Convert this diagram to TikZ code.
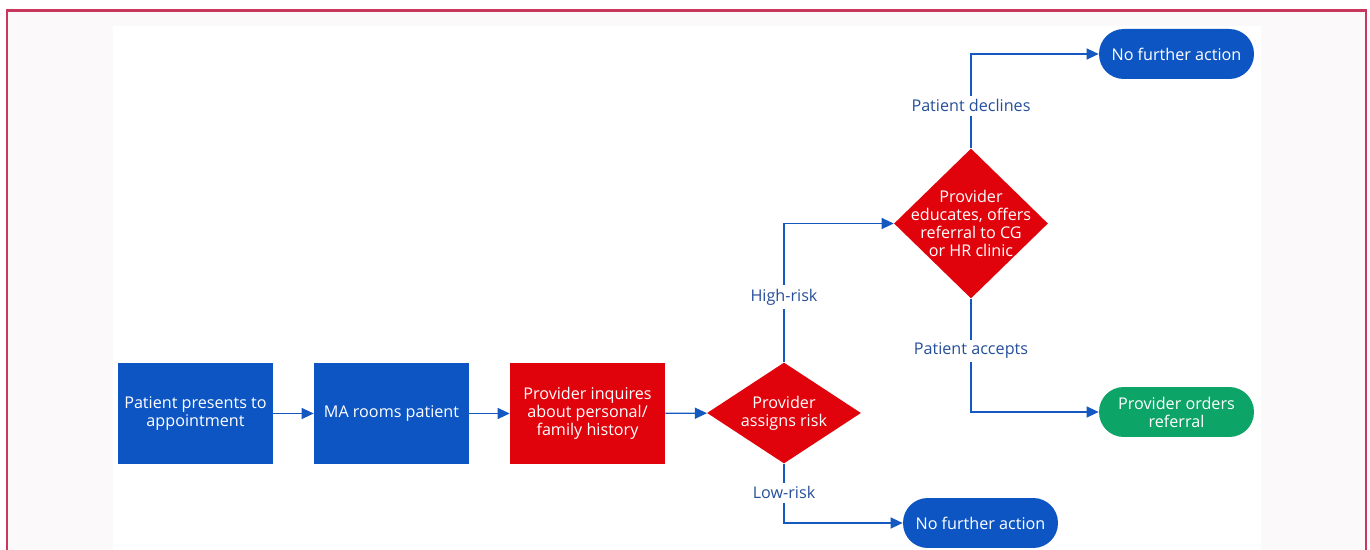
\documentclass[tikz,border=0pt]{standalone}
\usepackage{fontspec}
\setmainfont{Open Sans}
\usetikzlibrary{shapes.geometric,arrows.meta}

\definecolor{stepblue}{HTML}{0D55C3}
\definecolor{stepred}{HTML}{E1030C}
\definecolor{stepgreen}{HTML}{0CA467}
\definecolor{flowblue}{HTML}{1558C0}
\definecolor{labelblue}{HTML}{264F9A}
\definecolor{framered}{HTML}{C9375F}
\definecolor{pagebg}{HTML}{FCF9FA}

\tikzset{
  stepbox/.style={rectangle, minimum width=3.1cm, minimum height=2.02cm,
    inner sep=0pt, align=center, text=white, font=\fontsize{9.2}{10.3}\selectfont},
  decision/.style={diamond, inner sep=-6pt, align=center, text=white,
    font=\fontsize{9.2}{10.3}\selectfont, fill=stepred},
  terminal/.style={rectangle, rounded corners=0.495cm, minimum width=3.1cm,
    minimum height=1cm, inner sep=0pt, align=center, text=white,
    font=\fontsize{9.2}{10.3}\selectfont},
  flow/.style={draw=flowblue, line width=0.7pt, -{Triangle[length=0.24cm,width=0.22cm]}},
  edgelabel/.style={fill=white, text=labelblue, inner sep=2pt,
    font=\fontsize{9.2}{10.3}\selectfont}
}

\begin{document}
\begin{tikzpicture}[x=0.02cm, y=-0.02cm]
  \useasboundingbox (0, 0) rectangle (1370, 550);
  \fill[pagebg] (7, 10.5) rectangle (1366, 560);
  \fill[white] (113, 26) rectangle (1261, 560);
  \draw[framered, line width=1.3pt] (7, 560) -- (7, 10.5) -- (1366, 10.5) -- (1366, 560);

  \node[stepbox, fill=stepblue] (presents) at (195.5, 413.5) {Patient presents to\\appointment};
  \node[stepbox, fill=stepblue] (rooms) at (391.5, 413.5) {MA rooms patient};
  \node[stepbox, fill=stepred] (inquire) at (587.5, 413.5) {Provider inquires\\about personal/\\family history};
  \node[decision, minimum width=3.08cm, minimum height=2.02cm] (assign) at (784, 413) {Provider\\assigns risk};
  \node[decision, minimum width=3.08cm, minimum height=3cm] (offer) at (971, 223.5) {Provider\\educates, offers\\referral to CG\\or HR clinic};
  \node[terminal, fill=stepblue] (declined) at (1176.5, 54) {No further action};
  \node[terminal, fill=stepgreen] (orders) at (1176.5, 412) {Provider orders\\referral};
  \node[terminal, fill=stepblue] (lowrisk) at (980.5, 523) {No further action};

  \draw[flow] (presents) -- (rooms);
  \draw[flow] (rooms) -- (inquire);
  \draw[flow] (inquire) -- (assign);
  \draw[flow] (assign.north) |- (offer.west) node[edgelabel, pos=0.235] {High-risk};
  \draw[flow] (assign.south) |- (lowrisk.west) node[edgelabel, pos=0.245] {Low-risk};
  \draw[flow] (offer.north) |- (declined.west) node[edgelabel, pos=0.225] {Patient declines};
  \draw[flow] (offer.south) |- (orders.west) node[edgelabel, pos=0.23] {Patient accepts};
\end{tikzpicture}
\end{document}
